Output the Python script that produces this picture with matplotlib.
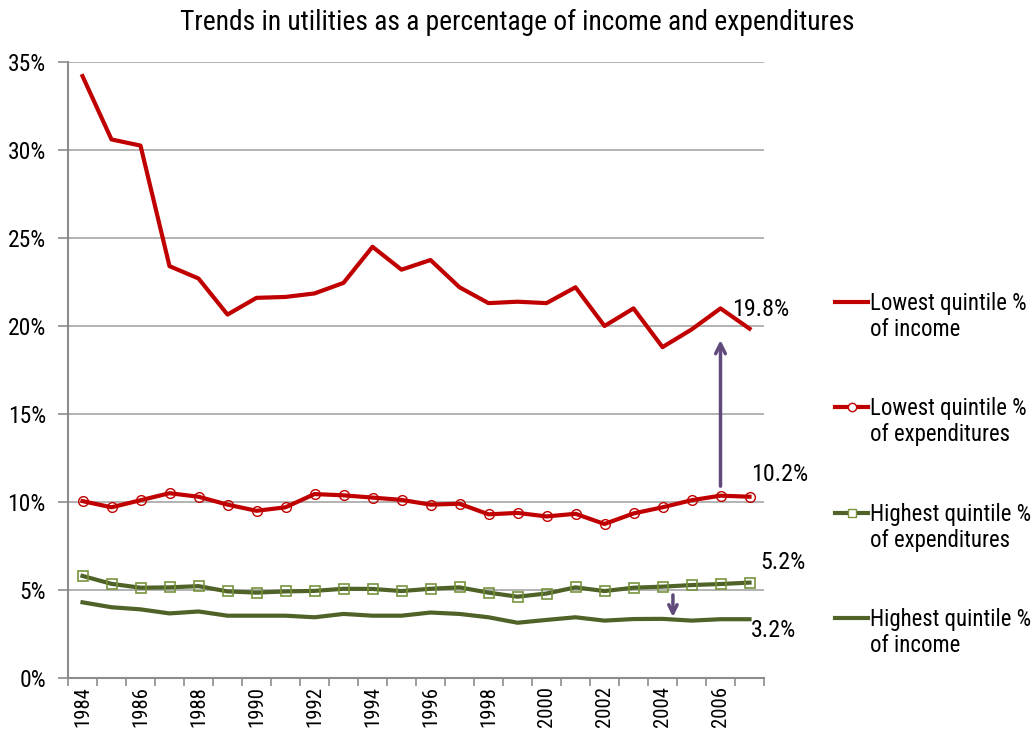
import matplotlib
matplotlib.use("Agg")
import matplotlib.pyplot as plt
from matplotlib import font_manager
import numpy as np
from matplotlib.ticker import FuncFormatter

# ---- data ----
years = list(range(1984, 2008))
low_income = [34.2, 30.6, 30.25, 23.4, 22.7, 20.65, 21.6, 21.65, 21.85, 22.45, 24.5, 23.2,
              23.75, 22.2, 21.3, 21.38, 21.3, 22.2, 20.0, 21.0, 18.8, 19.8, 21.0, 19.85]
low_exp = [10.05, 9.7, 10.1, 10.5, 10.3, 9.85, 9.5, 9.7, 10.45, 10.38, 10.25, 10.12,
           9.85, 9.9, 9.3, 9.38, 9.18, 9.33, 8.75, 9.35, 9.7, 10.1, 10.36, 10.3]
high_exp = [5.8, 5.35, 5.13, 5.15, 5.22, 4.92, 4.85, 4.92, 4.95, 5.07, 5.06, 4.94,
            5.07, 5.15, 4.85, 4.62, 4.8, 5.15, 4.94, 5.13, 5.19, 5.28, 5.34, 5.42]
high_income = [4.3, 4.02, 3.9, 3.67, 3.78, 3.54, 3.54, 3.54, 3.45, 3.64, 3.54, 3.54,
               3.72, 3.64, 3.45, 3.14, 3.3, 3.45, 3.26, 3.35, 3.36, 3.26, 3.34, 3.34]
series_labels = ["Lowest quintile %\nof income", "Lowest quintile %\nof expenditures",
                 "Highest quintile %\nof expenditures", "Highest quintile %\nof income"]
end_labels = ["19.8%", "10.2%", "5.2%", "3.2%"]
title = "Trends in utilities as a percentage of income and expenditures"

# ---- font choice: prefer a narrow sans ----
entries = font_manager.fontManager.ttflist
names = {f.name for f in entries}
FAMILY = ['Liberation Sans', 'DejaVu Sans']
STRETCH = 'normal'
chosen = None
for cand in ['Liberation Sans Narrow', 'Arial Narrow', 'Roboto Condensed', 'Open Sans Condensed',
             'Noto Sans Condensed', 'DejaVu Sans Condensed']:
    if cand in names:
        chosen = cand
        break
if chosen is None:
    for f in entries:
        if 'Narrow' in f.name or 'Condensed' in f.name:
            chosen = f.name
            break
if chosen is not None:
    FAMILY = [chosen, 'DejaVu Sans']
else:
    cond = [f for f in entries if str(f.stretch) in ('condensed', 'semi-condensed', '300', '400')
            and f.name in ('Roboto', 'Open Sans', 'Noto Sans', 'Inter', 'DejaVu Sans')]
    if cond:
        FAMILY = [cond[0].name, 'DejaVu Sans']
        STRETCH = 'condensed'
plt.rcParams['font.family'] = FAMILY
plt.rcParams['font.stretch'] = STRETCH

red = "#c00000"
green = "#4f6228"
sq_edge = "#77933c"
purple = "#604a7b"
grid_c = "#a6a6a6"
spine_c = "#8c8c8c"

fig = plt.figure(figsize=(10.35, 7.44), dpi=100)
renderer = fig.canvas.get_renderer()


def fit(s, target_px, base=20.0):
    t = fig.text(0, 0, s, fontsize=base)
    w = t.get_window_extent(renderer).width
    t.remove()
    return base * target_px / w


fs_title = fit(title, 673)
fs_ytick = fit("35%", 38)
fs_xtick = fit("1984", 41)
fs_leg = fit("Highest quintile %", 160)
fs_end = fit("19.8%", 57)

ax = fig.add_axes([68/1035, 1-678/744, (764-68)/1035, (678-62)/744])

x = np.arange(len(years))
ax.plot(x, low_income, color=red, lw=3)
ax.plot(x, low_exp, color=red, lw=3, marker='o', ms=7, mfc='none', mec=red, mew=1)
ax.plot(x, high_exp, color=green, lw=3, marker='s', ms=7, mfc='none', mec=sq_edge, mew=1.2)
ax.plot(x, high_income, color=green, lw=3)

ax.set_xlim(-0.5, len(years)-0.5)
ax.set_ylim(0, 35)
ax.set_yticks(np.arange(0, 36, 5))
ax.yaxis.set_major_formatter(FuncFormatter(lambda v, p: f"{int(v)}%"))
ax.grid(axis='y', color=grid_c, lw=1.2)
ax.set_axisbelow(True)

ax.set_xticks(x[::2])
ax.set_xticklabels([str(y) for y in years[::2]], rotation=90)
ax.set_xticks(np.arange(-0.5, len(years), 1), minor=True)
ax.tick_params(axis='x', which='major', length=0, labelsize=fs_xtick, pad=6)
ax.tick_params(axis='x', which='minor', length=6, color=spine_c, width=1.2)
ax.tick_params(axis='y', length=7, color=spine_c, width=1.2, labelsize=fs_ytick, pad=9)

for s in ['top', 'right']:
    ax.spines[s].set_visible(False)
for s in ['left', 'bottom']:
    ax.spines[s].set_color(spine_c)
    ax.spines[s].set_linewidth(1.5)

fig.text(0.5, 1-22/744, title, ha='center', va='center', fontsize=fs_title)

# end labels (offsets in pixels from the last point)
last = len(years) - 1
ends = [(low_income[-1], (-17, 19)), (low_exp[-1], (2, 22)),
        (high_exp[-1], (11, 20)), (high_income[-1], (1, -11))]
for lab, (yv, off) in zip(end_labels, ends):
    ax.annotate(lab, (last, yv), xytext=off, textcoords='offset pixels',
                ha='left', va='center', fontsize=fs_end)

# arrows
ax.annotate('', xy=(22.0, 19.2), xytext=(22.0, 10.9),
            arrowprops=dict(arrowstyle='->,head_length=0.7,head_width=0.35', color=purple, lw=2.5,
                            shrinkA=0, shrinkB=0))
ax.annotate('', xy=(20.36, 3.47), xytext=(20.36, 4.72),
            arrowprops=dict(arrowstyle='->,head_length=0.6,head_width=0.3', color=purple, lw=2.5,
                            shrinkA=0, shrinkB=0))

# legend
leg_line_y = [302, 407, 513, 618]
styles = [(red, None, None), (red, 'o', red), (green, 's', sq_edge), (green, None, None)]
for lab, yy, (c, m, me) in zip(series_labels, leg_line_y, styles):
    yf = 1 - yy/744
    fig.add_artist(plt.Line2D([835/1035, 868/1035], [yf, yf], transform=fig.transFigure,
                              color=c, lw=3))
    if m is not None:
        fig.add_artist(plt.Line2D([851.5/1035], [yf], transform=fig.transFigure,
                                  marker=m, ms=6, mfc='white', mec=me, mew=1, lw=0))
    fig.text(870/1035, 1 - (yy - 10)/744, lab, ha='left', va='top', fontsize=fs_leg,
             linespacing=1.15)

fig.savefig("out.png", dpi=100)
